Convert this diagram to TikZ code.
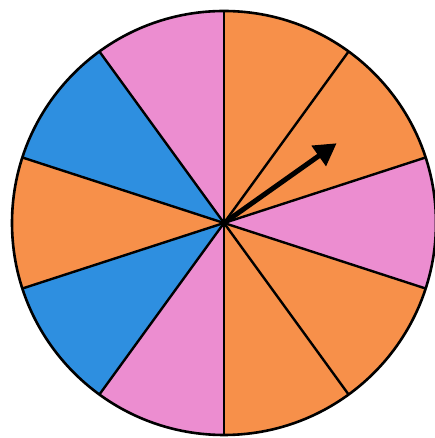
\documentclass[tikz,border=0pt]{standalone}
\usetikzlibrary{arrows.meta,calc}
\definecolor{sporange}{HTML}{F7904A}
\definecolor{sppink}{HTML}{EC8DD0}
\definecolor{spblue}{HTML}{2E8FE0}
\tikzset{
  spoke/.style={line width=2.4pt, black},
  rim/.style={line width=2.6pt, black},
  pointer/.style={line width=5pt, black, -{Triangle[length=22pt,width=24pt]}}
}
\begin{document}
\begin{tikzpicture}[x=1pt,y=1pt]
\useasboundingbox (0,0) rectangle (434,438);
\fill[white] (0,0) rectangle (434,438);
\coordinate (c) at (224,215);
\def\R{212}
\foreach \a/\col in {54/sporange,18/sporange,-18/sppink,-54/sporange,-90/sporange,-126/sppink,-162/spblue,162/sporange,126/spblue,90/sppink}{
  \fill[\col] (c) -- ($(c)+(\a:\R)$) arc[start angle=\a, delta angle=36, radius=\R] -- cycle;
}
\foreach \a in {90,54,18,-18,-54,-90,-126,-162,162,126}{
  \coordinate (e\a) at ($(c)+(\a:\R)$);
  \draw[spoke] (c) -- (e\a);
}
\draw[rim] (c) circle[radius=\R];
\coordinate (tip) at ($(c)+(35.3:138)$);
\draw[pointer] (c) -- (tip);
\end{tikzpicture}
\end{document}
